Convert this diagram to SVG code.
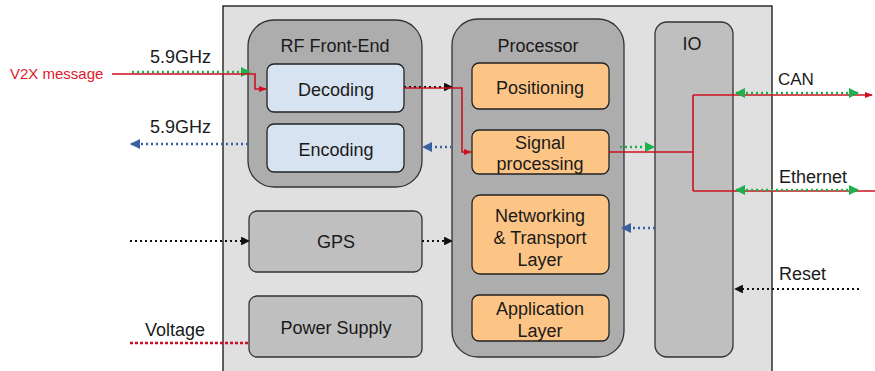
<svg xmlns="http://www.w3.org/2000/svg" width="875" height="371" viewBox="0 0 875 371">
<style>
  text { font-family: "Liberation Sans", Arial, sans-serif; fill: #1a1a1a; font-size: 18px; }
  .lbl { text-anchor: middle; }
  .frame { fill: #adadad; stroke: #333; stroke-width: 1.3; }
  .gray { fill: #bfbfbf; stroke: #333; stroke-width: 1.3; }
  .blue { fill: #d8e3f1; stroke: #222; stroke-width: 1.3; }
  .org { fill: #fdc585; stroke: #222; stroke-width: 1.3; }
  .red { fill: none; stroke: #cc1020; stroke-width: 1.6; }
  .gdot { fill: none; stroke: #1db04d; stroke-width: 2.6; stroke-dasharray: 2 3; }
  .bdot { fill: none; stroke: #3a62a0; stroke-width: 2.6; stroke-dasharray: 2 3; }
  .kdot { fill: none; stroke: #111; stroke-width: 2.2; stroke-dasharray: 2 3; }
  .rdash { fill: none; stroke: #cc1020; stroke-width: 2.6; stroke-dasharray: 3 2; }
</style>
<defs>
  <marker id="ag" viewBox="0 0 10 10" refX="9" refY="5" markerWidth="4" markerHeight="4" orient="auto-start-reverse" markerUnits="strokeWidth"><path d="M0,0 L10,5 L0,10 z" fill="#1db04d"/></marker>
  <marker id="ab" viewBox="0 0 10 10" refX="9" refY="5" markerWidth="4" markerHeight="4" orient="auto-start-reverse" markerUnits="strokeWidth"><path d="M0,0 L10,5 L0,10 z" fill="#3a62a0"/></marker>
  <marker id="ak" viewBox="0 0 10 10" refX="9" refY="5" markerWidth="4" markerHeight="4" orient="auto-start-reverse" markerUnits="strokeWidth"><path d="M0,0 L10,5 L0,10 z" fill="#111"/></marker>
  <marker id="ar" viewBox="0 0 10 10" refX="9" refY="5" markerWidth="5" markerHeight="5" orient="auto" markerUnits="strokeWidth"><path d="M0,1 L10,5 L0,9 z" fill="#cc1020"/></marker>
</defs>

<g id="obu">
  <rect x="223" y="6" width="549" height="380" fill="#e0e0e0" stroke="#111" stroke-width="1.3"/>
</g>

<g id="rf-front-end">
  <rect class="frame" x="248" y="20" width="174" height="167" rx="26"/>
  <text class="lbl" x="335" y="52">RF Front-End</text>
</g>
<g id="decoding">
  <rect class="blue" x="267" y="64" width="137" height="48" rx="7"/>
  <text class="lbl" x="336" y="96">Decoding</text>
</g>
<g id="encoding">
  <rect class="blue" x="267" y="124" width="137" height="48" rx="7"/>
  <text class="lbl" x="336" y="156">Encoding</text>
</g>

<g id="processor">
  <rect class="frame" x="452" y="19" width="172" height="338" rx="26"/>
  <text class="lbl" x="538" y="52">Processor</text>
</g>
<g id="positioning">
  <rect class="org" x="472" y="63" width="137" height="46" rx="7"/>
  <text class="lbl" x="540" y="94">Positioning</text>
</g>
<g id="signal-processing">
  <rect class="org" x="472" y="130" width="137" height="44" rx="7"/>
  <text class="lbl" x="540" y="149">Signal</text>
  <text class="lbl" x="540" y="170">processing</text>
</g>
<g id="networking">
  <rect class="org" x="472" y="195" width="137" height="79" rx="8"/>
  <text class="lbl" x="540" y="222">Networking</text>
  <text class="lbl" x="540" y="244">&amp; Transport</text>
  <text class="lbl" x="540" y="266">Layer</text>
</g>
<g id="application">
  <rect class="org" x="472" y="295" width="137" height="46" rx="7"/>
  <text class="lbl" x="540" y="315">Application</text>
  <text class="lbl" x="540" y="337">Layer</text>
</g>

<g id="io">
  <rect class="gray" x="655" y="22" width="78" height="335" rx="12"/>
  <text class="lbl" x="692" y="50">IO</text>
</g>

<g id="gps">
  <rect class="gray" x="249" y="211" width="173" height="61" rx="8"/>
  <text class="lbl" x="336" y="248">GPS</text>
</g>
<g id="power-supply">
  <rect class="gray" x="249" y="296" width="173" height="61" rx="8"/>
  <text class="lbl" x="336" y="334">Power Supply</text>
</g>

<g id="connectors">
  <path class="gdot" d="M132,72 L250,72" marker-end="url(#ag)"/>
  <path class="red" d="M112,74 L255,74 L255,89 L266,89" marker-end="url(#ar)"/>
  <path class="bdot" d="M248,144 L131,144" marker-end="url(#ab)"/>
  <path class="kdot" d="M404,87 L452,87" marker-end="url(#ak)"/>
  <path class="red" d="M404,88 L462,88 L462,152 L471,152" marker-end="url(#ar)"/>
  <path class="bdot" d="M452,147 L423,147" marker-end="url(#ab)"/>
  <path class="gdot" d="M620,147 L654,147" marker-end="url(#ag)"/>
  <path class="red" d="M609,152 L693,152 M693,95 L693,191"/>
  <path class="red" d="M693,95 L872,95" marker-end="url(#ar)"/>
  <path class="red" d="M693,191 L875,191"/>
  <path class="gdot" d="M736,93 L858,93" marker-start="url(#ag)" marker-end="url(#ag)"/>
  <path class="gdot" d="M736,190 L858,190" marker-start="url(#ag)" marker-end="url(#ag)"/>
  <path class="kdot" d="M859,289 L735,289" marker-end="url(#ak)"/>
  <path class="bdot" d="M655,228 L622,228" marker-end="url(#ab)"/>
  <path class="kdot" d="M130,241 L249,241" marker-end="url(#ak)"/>
  <path class="kdot" d="M422,241 L452,241" marker-end="url(#ak)"/>
  <path class="rdash" d="M130,343 L249,343"/>
</g>

<g id="labels">
  <text x="10" y="79" style="fill:#e0182a; font-size:15px">V2X message</text>
  <text x="150" y="63">5.9GHz</text>
  <text x="150" y="133">5.9GHz</text>
  <text x="778" y="85" style="font-size:17px">CAN</text>
  <text x="779" y="183">Ethernet</text>
  <text x="779" y="280">Reset</text>
  <text x="145" y="336">Voltage</text>
</g>
</svg>
